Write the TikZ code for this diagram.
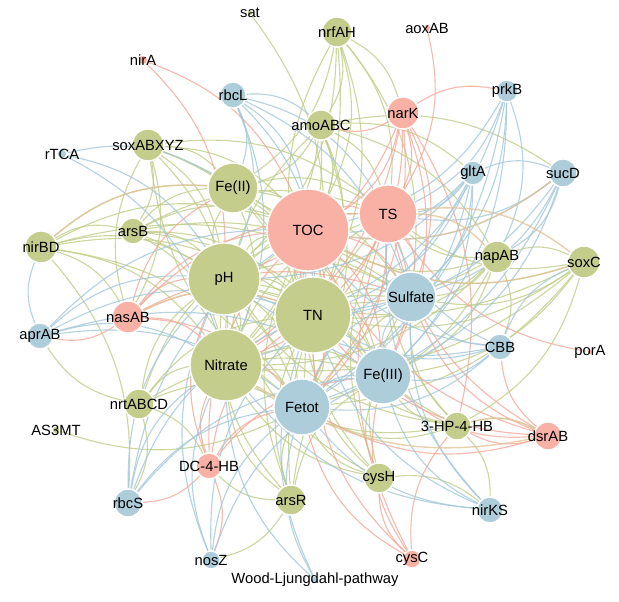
\documentclass[tikz,border=0pt]{standalone}
\usepackage{fontspec}
\setmainfont{Liberation Sans}
\usetikzlibrary{backgrounds}
\definecolor{grn}{HTML}{C4CD8C}
\definecolor{pnk}{HTML}{F9B1A6}
\definecolor{blu}{HTML}{AECDDB}
\definecolor{grnE}{HTML}{BFCD88}
\definecolor{pnkE}{HTML}{F3A898}
\definecolor{bluE}{HTML}{A3C7DA}
\definecolor{tanE}{HTML}{E2C49A}
\begin{document}
\begin{tikzpicture}[x=0.025cm,y=-0.025cm,font=\fontsize{10.5}{12}\selectfont]
\tikzset{nd/.style={circle,draw=white,line width=1pt,inner sep=0pt,minimum size=#1*0.05cm}, gn/.style={nd=#1,fill=grn}, pn/.style={nd=#1,fill=pnk}, bn/.style={nd=#1,fill=blu}, ed/.style={line width=0.8pt,opacity=0.8,bend left=22}, eg/.style={ed,grnE}, ep/.style={ed,pnkE}, eb/.style={ed,bluE}, et/.style={ed,tanE,line width=1pt}}
\useasboundingbox (0,0) rectangle (619,602);
\node[gn=3,label=center:sat] (sat) at (250,13) {};
\node[gn=15,label=center:nrfAH] (nrfAH) at (337,32) {};
\node[pn=4,label=center:aoxAB] (aoxAB) at (427,28) {};
\node[pn=5,label=center:nirA] (nirA) at (143,60) {};
\node[bn=13,label=center:rbcL] (rbcL) at (233,95) {};
\node[gn=15,label=center:amoABC] (amoABC) at (321,125) {};
\node[pn=16,label=center:narK] (narK) at (403,113) {};
\node[bn=11,label=center:prkB] (prkB) at (507,91) {};
\node[bn=5,label=center:rTCA] (rTCA) at (62,154) {};
\node[gn=16,label=center:soxABXYZ] (soxABXYZ) at (148,145) {};
\node[gn=25,label=center:{Fe(II)}] (FeII) at (233,188) {};
\node[bn=12,label=center:gltA] (gltA) at (473,173) {};
\node[bn=14,label=center:sucD] (sucD) at (563,173) {};
\node[pn=41,label=center:TOC] (TOC) at (308,230) {};
\node[pn=29,label=center:TS] (TS) at (388,214) {};
\node[gn=13,label=center:arsB] (arsB) at (133,231) {};
\node[gn=16,label=center:nirBD] (nirBD) at (41,247) {};
\node[gn=36,label=center:pH] (pH) at (224,279) {};
\node[gn=16,label=center:napAB] (napAB) at (497,257) {};
\node[gn=16,label=center:soxC] (soxC) at (584,262) {};
\node[gn=38,label=center:TN] (TN) at (313,315) {};
\node[bn=25,label=center:Sulfate] (Sulfate) at (411,297) {};
\node[pn=16,label=center:nasAB] (nasAB) at (128,317) {};
\node[bn=13,label=center:aprAB] (aprAB) at (40,336) {};
\node[gn=36,label=center:Nitrate] (Nitrate) at (226,365) {};
\node[bn=13,label=center:CBB] (CBB) at (500,347) {};
\node[pn=3,label=center:porA] (porA) at (590,352) {};
\node[bn=28,label=center:{Fe(III)}] (FeIII) at (383,376) {};
\node[bn=28,label=center:Fetot] (Fetot) at (302,407) {};
\node[gn=15,label=center:nrtABCD] (nrtABCD) at (139,404) {};
\node[gn=4,label=center:AS3MT] (AS3MT) at (56,430) {};
\node[gn=14,label=center:{3-HP-4-HB}] (HP) at (457,426) {};
\node[pn=14,label=center:dsrAB] (dsrAB) at (548,436) {};
\node[pn=13,label=center:{DC-4-HB}] (DC) at (209,466) {};
\node[gn=15,label=center:arsR] (arsR) at (291,500) {};
\node[gn=15,label=center:cysH] (cysH) at (379,478) {};
\node[bn=14,label=center:rbcS] (rbcS) at (128,503) {};
\node[bn=13,label=center:nirKS] (nirKS) at (490,510) {};
\node[bn=9,label=center:nosZ] (nosZ) at (211,560) {};
\node[pn=9,label=center:cysC] (cysC) at (412,559) {};
\node[bn=4,label=center:{Wood-Ljungdahl-pathway}] (WL) at (315,580) {};
\begin{pgfonlayer}{background}
\foreach \a/\b in {sat/TN,nrfAH/TOC,nrfAH/TS,nrfAH/FeII,nrfAH/pH,nrfAH/TN,nrfAH/amoABC,nrfAH/narK,nrfAH/Nitrate,nrfAH/Sulfate,amoABC/TOC,amoABC/TS,amoABC/pH,amoABC/FeII,amoABC/TN,amoABC/Fetot,amoABC/Nitrate,amoABC/gltA,amoABC/sucD,amoABC/napAB,soxABXYZ/FeII,soxABXYZ/TOC,soxABXYZ/pH,soxABXYZ/TN,soxABXYZ/Nitrate,soxABXYZ/TS,soxABXYZ/arsB,soxABXYZ/nasAB,soxABXYZ/FeIII,arsB/pH,arsB/TOC,arsB/TN,arsB/Nitrate,arsB/FeII,arsB/Fetot,arsB/TS,arsB/Sulfate,nirBD/arsB,nirBD/pH,nirBD/TOC,nirBD/TN,nirBD/Nitrate,nirBD/FeII,nirBD/nasAB,nirBD/Fetot,nirBD/Sulfate,nirBD/rbcS,napAB/TOC,napAB/TS,napAB/TN,napAB/Sulfate,napAB/FeIII,napAB/Fetot,napAB/pH,napAB/Nitrate,napAB/soxC,napAB/CBB,soxC/TS,soxC/TOC,soxC/TN,soxC/Sulfate,soxC/FeIII,soxC/Fetot,soxC/Nitrate,soxC/HP,soxC/pH,nrtABCD/Nitrate,nrtABCD/pH,nrtABCD/TN,nrtABCD/Fetot,nrtABCD/TOC,nrtABCD/aprAB,nrtABCD/FeIII,nrtABCD/rbcS,nrtABCD/DC,Fetot/AS3MT,HP/TN,HP/Fetot,HP/FeIII,HP/TOC,HP/pH,HP/Nitrate,HP/Sulfate,HP/dsrAB,HP/TS,HP/nirKS,arsR/Fetot,arsR/TN,arsR/Nitrate,arsR/FeIII,arsR/pH,arsR/TOC,arsR/DC,arsR/nosZ,arsR/Sulfate,arsR/TS,cysH/Fetot,cysH/FeIII,cysH/TN,cysH/Nitrate,cysH/pH,cysH/TOC,cysH/nirKS,cysH/Sulfate,cysH/TS,pH/TN,pH/TOC,pH/Nitrate,pH/FeII,pH/Fetot,pH/TS,pH/Sulfate,pH/FeIII,TN/TOC,TN/Fetot,TN/FeIII,TN/Sulfate,TN/Nitrate,TN/TS,Nitrate/Fetot,Nitrate/FeIII,Nitrate/TOC,Nitrate/TS,Nitrate/Sulfate,FeII/TOC,FeII/TS,FeII/TN,FeII/Nitrate,FeII/Fetot,FeII/Sulfate,FeII/FeIII,arsB/FeIII,nasAB/soxABXYZ,Fetot/soxABXYZ,TN/nrfAH,Nitrate/amoABC} \draw[eg] (\a) to (\b);
\foreach \a/\b in {nirA/TOC,nirA/pH,aoxAB/TS,narK/TS,narK/TOC,narK/TN,narK/Sulfate,narK/FeIII,narK/Fetot,narK/pH,narK/Nitrate,narK/prkB,narK/amoABC,narK/HP,nasAB/pH,nasAB/TN,nasAB/Nitrate,nasAB/TOC,nasAB/Fetot,nasAB/FeII,nasAB/Sulfate,nasAB/TS,nasAB/aprAB,porA/TS,dsrAB/HP,dsrAB/CBB,dsrAB/TS,dsrAB/TOC,dsrAB/Fetot,dsrAB/Sulfate,dsrAB/TN,dsrAB/FeIII,DC/Nitrate,DC/Fetot,DC/TN,DC/pH,DC/TOC,DC/rbcS,DC/nosZ,DC/FeIII,cysC/cysH,cysC/Fetot,cysC/TN,cysC/HP,cysC/FeIII,cysC/TS,TOC/TS,TOC/Fetot,TOC/Sulfate,TOC/FeIII,TS/Sulfate,TS/Fetot,TS/FeIII,TS/Nitrate,TOC/Nitrate} \draw[ep] (\a) to (\b);
\foreach \a/\b in {rbcL/FeII,rbcL/TOC,rbcL/TS,rbcL/pH,rbcL/TN,rbcL/Nitrate,rbcL/amoABC,rbcL/Sulfate,prkB/TS,prkB/TOC,prkB/Sulfate,prkB/FeIII,prkB/TN,prkB/Fetot,prkB/napAB,rTCA/FeII,rTCA/pH,rTCA/Nitrate,gltA/TS,gltA/TOC,gltA/TN,gltA/Sulfate,gltA/FeIII,gltA/Fetot,gltA/sucD,gltA/Nitrate,gltA/pH,sucD/TS,sucD/TOC,sucD/Sulfate,sucD/FeIII,sucD/TN,sucD/napAB,sucD/Fetot,aprAB/pH,aprAB/Nitrate,aprAB/TN,aprAB/TOC,aprAB/Fetot,aprAB/nirBD,aprAB/FeIII,CBB/Sulfate,CBB/TS,CBB/TN,CBB/FeIII,CBB/TOC,CBB/Fetot,CBB/pH,CBB/soxC,rbcS/Nitrate,rbcS/Fetot,rbcS/TN,rbcS/pH,rbcS/FeIII,rbcS/TOC,nirKS/FeIII,nirKS/TN,nirKS/Fetot,nirKS/Sulfate,nirKS/TS,nirKS/Nitrate,nosZ/Nitrate,nosZ/TN,nosZ/Fetot,nosZ/FeIII,nosZ/pH,WL/Fetot,WL/TN,WL/Nitrate,Fetot/FeIII,Fetot/Sulfate,FeIII/Sulfate,Sulfate/pH,FeIII/TOC} \draw[eb] (\a) to (\b);
\foreach \a/\b in {TS/soxC,soxC/TOC,HP/dsrAB,dsrAB/Nitrate,nirBD/FeII,sucD/TOC,TS/napAB,nasAB/TN} \draw[et] (\a) to (\b);
\end{pgfonlayer}
\end{tikzpicture}
\end{document}
